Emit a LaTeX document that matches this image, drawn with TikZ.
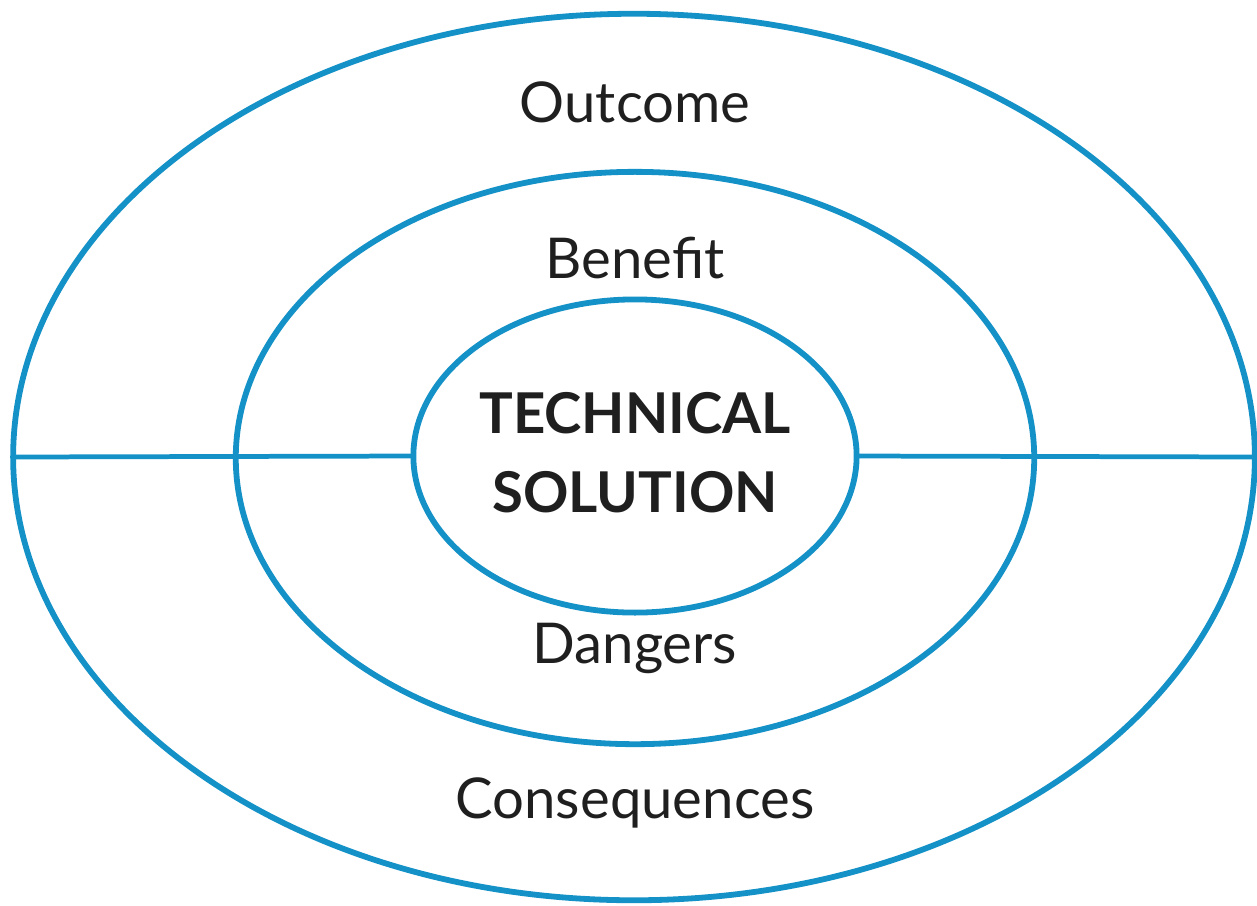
\documentclass[tikz,border=0pt]{standalone}
\usepackage{fontspec}
\setmainfont{Lato}
\usetikzlibrary{shapes.geometric}
\definecolor{ringblue}{RGB}{20,145,198}
\tikzset{
  ring/.style={draw=ringblue, line width=1.65pt, ellipse, inner sep=0pt, outer sep=0pt},
  divider/.style={draw=ringblue, line width=1.35pt},
  lbl/.style={font=\fontsize{16}{19}\selectfont, text=black!88, inner sep=0pt},
  core/.style={font=\fontsize{16}{22.5}\bfseries\selectfont, text=black!88, align=center, inner sep=0pt}
}
\begin{document}
\begin{tikzpicture}[x=0.01cm, y=-0.01cm]
\useasboundingbox (0,0) rectangle (1257,905);
\node[ring, minimum width=12.41cm, minimum height=8.86cm] (outer) at (634,457) {};
\node[ring, minimum width=7.98cm, minimum height=5.72cm] (middle) at (635,458) {};
\node[ring, minimum width=4.43cm, minimum height=3.13cm] (inner) at (635,456) {};
\draw[divider] (outer.west) -- (inner.west);
\draw[divider] (inner.east) -- (outer.east);
\node[lbl] (outcome) at (635,102) {Outcome};
\node[lbl] (benefit) at (635,258) {Benefit};
\node[core] (tech) at (635,453) {TECHNICAL\\SOLUTION};
\node[lbl] (dangers) at (635,648) {Dangers};
\node[lbl] (conseq) at (635,803) {Consequences};
\end{tikzpicture}
\end{document}
